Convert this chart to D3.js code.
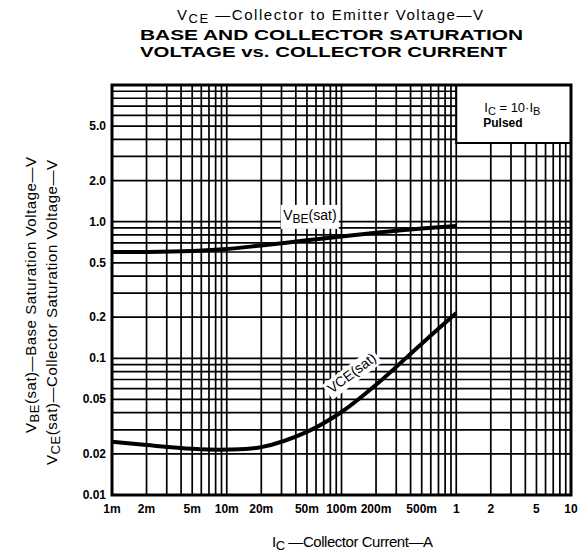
<!DOCTYPE html>
<html>
<head>
<meta charset="utf-8">
<script src="https://cdn.jsdelivr.net/npm/d3@7"></script>
<style>
  html, body { margin: 0; padding: 0; background: #fff; }
  svg { display: block; font-family: "Liberation Sans", Arial, Helvetica, sans-serif; }
</style>
</head>
<body>
<svg id="chart" width="583" height="553"></svg>
<script>
// collector current (A) and saturation voltages
const vbeCurrent = [0.001, 0.002, 0.005, 0.01, 0.02, 0.05, 0.1, 0.2, 0.5, 1];
const vbeValues  = [0.60, 0.60, 0.61, 0.63, 0.67, 0.73, 0.78, 0.83, 0.89, 0.93];
const vceCurrent = [0.001, 0.002, 0.005, 0.01, 0.02, 0.05, 0.1, 0.2, 0.5, 1];
const vceValues  = [0.0245, 0.0232, 0.0218, 0.0215, 0.0224, 0.029, 0.0405, 0.064, 0.128, 0.215];

const xTicks = [0.001, 0.002, 0.005, 0.01, 0.02, 0.05, 0.1, 0.2, 0.5, 1, 2, 5, 10];
const xTickLabels = ['1m', '2m', '5m', '10m', '20m', '50m', '100m', '200m', '500m', '1', '2', '5', '10'];
const yTicks = [5, 2, 1, 0.5, 0.2, 0.1, 0.05, 0.02, 0.01];
const yTickLabels = ['5.0', '2.0', '1.0', '0.5', '0.2', '0.1', '0.05', '0.02', '0.01'];

const svg = d3.select('#chart');
const margin = { top: 85, right: 12, bottom: 58, left: 112 };
const width  = 583 - margin.left - margin.right;
const height = 553 - margin.top - margin.bottom;

const x = d3.scaleLog().domain([0.001, 10]).range([0, width]);
const y = d3.scaleLog().domain([0.01, 10]).range([height, 0]);

const g = svg.append('g').attr('transform', `translate(${margin.left},${margin.top})`);

// log paper grid: 1..9 in every decade
const gridVals = (lo, hi) => {
  const out = [];
  for (let e = Math.log10(lo); e < Math.log10(hi); e++) {
    for (let k = 1; k <= 9; k++) out.push(k * Math.pow(10, e));
  }
  out.push(hi);
  return out;
};

g.append('g').selectAll('line')
  .data(gridVals(0.001, 10))
  .join('line')
  .attr('x1', d => x(d)).attr('x2', d => x(d))
  .attr('y1', 0).attr('y2', height)
  .attr('stroke', '#000').attr('stroke-width', 1.7);

g.append('g').selectAll('line')
  .data(gridVals(0.01, 10))
  .join('line')
  .attr('y1', d => y(d)).attr('y2', d => y(d))
  .attr('x1', 0).attr('x2', width)
  .attr('stroke', '#000').attr('stroke-width', 1.7);

// curves
const line = d3.line()
  .x(d => x(d[0]))
  .y(d => y(d[1]))
  .curve(d3.curveCatmullRom.alpha(0.5));

g.append('path')
  .datum(d3.zip(vbeCurrent, vbeValues))
  .attr('fill', 'none').attr('stroke', '#000').attr('stroke-width', 4)
  .attr('d', line);

g.append('path')
  .datum(d3.zip(vceCurrent, vceValues))
  .attr('fill', 'none').attr('stroke', '#000').attr('stroke-width', 4)
  .attr('d', line);

// curve labels with white knockout
const vbeLbl = g.append('g').attr('transform', `translate(${x(0.053)},${y(1.03)})`);
vbeLbl.append('rect').attr('x', -29).attr('y', -15).attr('width', 58).attr('height', 24).attr('fill', '#fff');
const vbeT = vbeLbl.append('text').attr('text-anchor', 'middle').attr('font-size', 14);
vbeT.append('tspan').text('V');
vbeT.append('tspan').attr('font-size', 12).attr('dy', 3).text('BE');
vbeT.append('tspan').attr('dy', -3).text('(sat)');

const vceLbl = g.append('g').attr('transform', `translate(${x(0.13)},${y(0.073)}) rotate(-37)`);
vceLbl.append('rect').attr('x', -31).attr('y', -13).attr('width', 62).attr('height', 18).attr('fill', '#fff');
vceLbl.append('text').attr('text-anchor', 'middle').attr('font-size', 14).text('VCE(sat)');

// legend box
g.append('rect')
  .attr('x', x(1)).attr('y', 0)
  .attr('width', width - x(1)).attr('height', 58)
  .attr('fill', '#fff').attr('stroke', '#000').attr('stroke-width', 2);
const leg1 = g.append('text').attr('x', x(1) + 28).attr('y', 27).attr('font-size', 13);
leg1.append('tspan').text('I');
leg1.append('tspan').attr('font-size', 11).attr('dy', 3).text('C');
leg1.append('tspan').attr('dy', -3).text(' = 10·I');
leg1.append('tspan').attr('font-size', 11).attr('dy', 3).text('B');
g.append('text').attr('x', x(1) + 27).attr('y', 42).attr('font-size', 12).attr('font-weight', 'bold').text('Pulsed');

// plot border
g.append('rect')
  .attr('width', width).attr('height', height)
  .attr('fill', 'none').attr('stroke', '#000').attr('stroke-width', 3);

// tick labels
g.append('g').selectAll('text')
  .data(xTicks)
  .join('text')
  .attr('x', d => x(d)).attr('y', height + 18)
  .attr('text-anchor', 'middle')
  .attr('font-size', 12).attr('font-weight', 'bold')
  .text((d, i) => xTickLabels[i]);

g.append('g').selectAll('text')
  .data(yTicks)
  .join('text')
  .attr('x', -6).attr('y', d => y(d) + 4)
  .attr('text-anchor', 'end')
  .attr('font-size', 12).attr('font-weight', 'bold')
  .text((d, i) => yTickLabels[i]);

// titles
const t1 = svg.append('text').attr('x', 177).attr('y', 20).attr('font-size', 15)
  .attr('textLength', 306).attr('lengthAdjust', 'spacing');
t1.append('tspan').text('V');
t1.append('tspan').attr('font-size', 13).attr('dy', 3).text('CE');
t1.append('tspan').attr('dy', -3).text(' —Collector to Emitter Voltage—V');

svg.append('text').attr('x', 140).attr('y', 40)
  .attr('font-size', 15).attr('font-weight', 'bold')
  .attr('textLength', 383).attr('lengthAdjust', 'spacingAndGlyphs')
  .text('BASE AND COLLECTOR SATURATION');
svg.append('text').attr('x', 140).attr('y', 57)
  .attr('font-size', 15).attr('font-weight', 'bold')
  .attr('textLength', 367).attr('lengthAdjust', 'spacingAndGlyphs')
  .text('VOLTAGE vs. COLLECTOR CURRENT');

const xt = svg.append('text').attr('x', 272).attr('y', 547).attr('font-size', 15)
  .attr('textLength', 161).attr('lengthAdjust', 'spacing');
xt.append('tspan').text('I');
xt.append('tspan').attr('font-size', 13).attr('dy', 3).text('C');
xt.append('tspan').attr('dy', -3).text(' —Collector  Current—A');

const yt1 = svg.append('text').attr('transform', 'translate(36,433) rotate(-90)')
  .attr('font-size', 15).attr('textLength', 276).attr('lengthAdjust', 'spacing');
yt1.append('tspan').text('V');
yt1.append('tspan').attr('font-size', 13).attr('dy', 3).text('BE');
yt1.append('tspan').attr('dy', -3).text('(sat)—Base  Saturation  Voltage—V');

const yt2 = svg.append('text').attr('transform', 'translate(57,465) rotate(-90)')
  .attr('font-size', 15).attr('textLength', 305).attr('lengthAdjust', 'spacing');
yt2.append('tspan').text('V');
yt2.append('tspan').attr('font-size', 13).attr('dy', 3).text('CE');
yt2.append('tspan').attr('dy', -3).text('(sat)—Collector  Saturation  Voltage—V');
</script>
</body>
</html>
